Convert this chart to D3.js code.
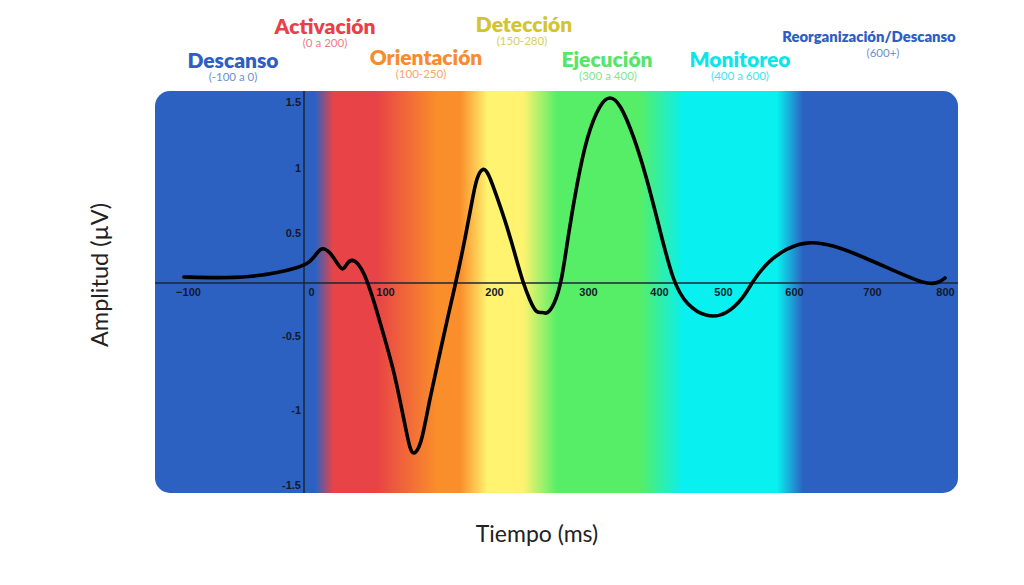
<!DOCTYPE html>
<html lang="es">
<head>
  <meta charset="UTF-8">
  <title>Fases del potencial evocado</title>
  <script src="https://d3js.org/d3.v7.min.js"></script>
  <style>
    body { margin: 0; background: #fff; }
    svg { display: block; font-family: Lato, "Noto Sans", sans-serif; }
    .tick text { font-weight: 800; font-size: 11px; fill: #111a2b; }
  </style>
</head>
<body>
  <svg width="1024" height="585"></svg>

  <script>
    // Curve (time in ms, amplitude in µV)
    const times = [-101, -73, -45, -23, -6, 7, 16, 22, 32, 40, 48, 53, 59, 67, 75, 79, 86, 98,
      108, 115, 120, 123, 126, 131, 135, 141, 149, 157, 164, 172, 180, 184, 190, 195, 203, 214,
      224, 231, 238, 245, 252, 256, 264, 272, 279, 288, 299, 317, 331, 345, 364, 383, 402, 422,
      443, 475, 505, 529, 540, 562, 590, 618, 650, 689, 734, 766, 784, 793, 800];
    const amplitudes = [0.06, 0.05, 0.06, 0.10, 0.15, 0.20, 0.30, 0.36, 0.31, 0.21, 0.11, 0.20,
      0.24, 0.20, 0.08, -0.01, -0.16, -0.48, -0.73, -0.98, -1.16, -1.26, -1.30, -1.26, -1.16,
      -0.93, -0.66, -0.35, -0.04, 0.36, 0.75, 0.93, 1.01, 0.96, 0.78, 0.55, 0.23, 0, -0.16,
      -0.29, -0.27, -0.30, -0.21, 0.01, 0.48, 0.87, 1.25, 1.49, 1.55, 1.49, 1.25, 0.92, 0.51,
      0.01, -0.21, -0.33, -0.30, -0.14, 0, 0.21, 0.35, 0.42, 0.38, 0.26, 0.11, 0.01, -0.01,
      0.01, 0.05];

    const xTicks = [-100, 0, 100, 200, 300, 400, 500, 600, 700, 800];
    const yTicks = [-1.5, -1, -0.5, 0.5, 1, 1.5];

    const phaseNames = ["Descanso", "Activación", "Orientación", "Detección",
      "Ejecución", "Monitoreo", "Reorganización/Descanso"];
    const phaseRanges = ["(-100 a 0)", "(0 a 200)", "(100-250)", "(150-280)",
      "(300 a 400)", "(400 a 600)", "(600+)"];

    // background colour bands: edges in ms, each band colour index
    const bandEdges = [-100, 14, 36, 90, 148, 169, 194, 231, 267, 373, 438, 576, 612, 800];
    const bandPhase = [0, 0, 1, 1, 2, 2, 3, 3, 4, 4, 5, 5, 6, 6];

    const palette = ["#2d61c1", "#e84346", "#fa8e2b", "#fff36f", "#56ee67", "#08f0ef", "#2d61c1"];
    const titleColours = ["#2e5ec4", "#e8404a", "#f98b2e", "#d2c52f", "#57e569", "#0be6ea", "#2e5ec4"];
    const subColours = ["#6f8fd6", "#ee7d82", "#f6a46c", "#d8ce63", "#7de88b", "#3fe6e8", "#6f8fd6"];

    const svg = d3.select("svg");
    const panel = { left: 155, right: 958, top: 91, bottom: 493 };

    // the reference axis is drawn with uneven spacing, so both scales are piecewise
    const xTickPx = [185, 304, 385, 494, 588, 659, 723, 794, 872, 945];
    const x = d3.scaleLinear().domain(xTicks).range(xTickPx);
    const y = d3.scaleLinear()
      .domain([-1.5, -1, -0.5, 0, 0.5, 1, 1.5])
      .range([485, 410, 336, 283, 233, 168, 102]);

    // gradient background
    const grad = svg.append("defs").append("linearGradient")
      .attr("id", "bands")
      .attr("gradientUnits", "userSpaceOnUse")
      .attr("x1", panel.left).attr("x2", panel.right)
      .attr("y1", 0).attr("y2", 0);

    grad.selectAll("stop")
      .data(bandEdges)
      .join("stop")
      .attr("offset", d => Math.max(0, Math.min(1, (x(d) - panel.left) / (panel.right - panel.left))))
      .attr("stop-color", (d, i) => palette[bandPhase[i]]);

    svg.append("rect")
      .attr("x", panel.left)
      .attr("y", panel.top)
      .attr("width", panel.right - panel.left)
      .attr("height", panel.bottom - panel.top)
      .attr("rx", 15)
      .attr("fill", "url(#bands)");

    // axes
    svg.append("line")
      .attr("x1", panel.left).attr("x2", panel.right)
      .attr("y1", y(0)).attr("y2", y(0))
      .attr("stroke", "#1b2636").attr("stroke-width", 1.5);

    svg.append("line")
      .attr("x1", x(0)).attr("x2", x(0))
      .attr("y1", panel.top).attr("y2", panel.bottom)
      .attr("stroke", "#1b2636").attr("stroke-width", 1.5);

    const xAxis = svg.append("g")
      .attr("transform", `translate(0,${y(0)})`)
      .call(d3.axisBottom(x).tickValues(xTicks).tickSize(0).tickPadding(5));
    xAxis.select(".domain").remove();
    xAxis.selectAll(".tick text").filter(d => d === 0).attr("dx", 7);
    xAxis.selectAll(".tick text").filter(d => d === -100).attr("dx", 3);

    const yAxis = svg.append("g")
      .attr("transform", `translate(${x(0)},0)`)
      .call(d3.axisLeft(y).tickValues(yTicks).tickSize(0).tickPadding(3)
        .tickFormat(d => String(d)));
    yAxis.select(".domain").remove();

    // the curve
    const line = d3.line()
      .x(d => x(d[0]))
      .y(d => y(d[1]))
      .curve(d3.curveBasis);

    svg.append("path")
      .datum(d3.zip(times, amplitudes))
      .attr("d", line)
      .attr("fill", "none")
      .attr("stroke", "#000")
      .attr("stroke-width", 3.6)
      .attr("stroke-linejoin", "round")
      .attr("stroke-linecap", "round");

    // phase labels above the panel
    const labelPos = [
      { cx: 233, y: 68, size: 21 },
      { cx: 325, y: 34, size: 21 },
      { cx: 426, y: 65, size: 21 },
      { cx: 524, y: 32, size: 21 },
      { cx: 607, y: 67, size: 21 },
      { cx: 740, y: 67, size: 21 },
      { cx: 869, y: 42, size: 14.8 }
    ];
    const subX = [233, 325, 421, 522, 608, 740, 883];

    const labels = svg.append("g").attr("text-anchor", "middle");
    labels.selectAll("text.title")
      .data(phaseNames)
      .join("text")
      .attr("class", "title")
      .attr("x", (d, i) => labelPos[i].cx)
      .attr("y", (d, i) => labelPos[i].y)
      .attr("font-size", (d, i) => labelPos[i].size)
      .attr("font-weight", 800)
      .attr("fill", (d, i) => titleColours[i])
      .text(d => d);

    labels.selectAll("text.sub")
      .data(phaseRanges)
      .join("text")
      .attr("class", "sub")
      .attr("x", (d, i) => subX[i])
      .attr("y", (d, i) => labelPos[i].y + (i === 6 ? 15 : 13))
      .attr("font-size", 11.5)
      .attr("fill", (d, i) => subColours[i])
      .text(d => d);

    // axis titles
    svg.append("text")
      .attr("x", 537)
      .attr("y", 542)
      .attr("text-anchor", "middle")
      .attr("font-size", 23)
      .attr("fill", "#222")
      .text("Tiempo (ms)");

    svg.append("text")
      .attr("transform", "translate(108,275) rotate(-90)")
      .attr("text-anchor", "middle")
      .attr("font-size", 23.5)
      .attr("fill", "#222")
      .text("Amplitud (µV)");
  </script>
</body>
</html>
